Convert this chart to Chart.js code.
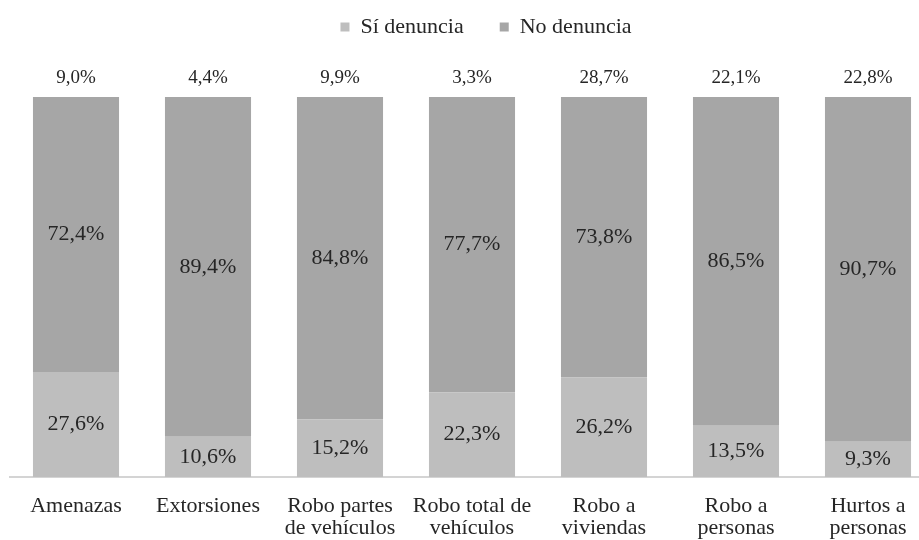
<!DOCTYPE html>
<html lang="es">
<head>
<meta charset="utf-8">
<title>Denuncia por tipo de delito</title>
<script src="https://cdn.jsdelivr.net/npm/chart.js@4"></script>
<style>
  html, body { margin: 0; padding: 0; background: #fff; overflow: hidden; }
  #wrap { width: 919px; height: 540px; overflow: hidden; }
</style>
</head>
<body>
<div id="wrap"><canvas id="grafico" width="940" height="540"></canvas></div>
<script>
// Categorías (tipo de delito) y porcentajes por serie
const categorias = [
  'Amenazas',
  'Extorsiones',
  ['Robo partes', 'de vehículos'],
  ['Robo total de', 'vehículos'],
  ['Robo a', 'viviendas'],
  ['Robo a', 'personas'],
  ['Hurtos a', 'personas']
];
const siDenuncia = [27.6, 10.6, 15.2, 22.3, 26.2, 13.5, 9.3];
const noDenuncia = [72.4, 89.4, 84.8, 77.7, 73.8, 86.5, 90.7];
// porcentaje que aparece encima de cada barra
const totalSobreBarra = [9.0, 4.4, 9.9, 3.3, 28.7, 22.1, 22.8];

const fuente = "'Liberation Serif', 'Times New Roman', serif";
const colorTexto = '#262626';

function formato(v) {
  return v.toFixed(1).replace('.', ',') + '%';
}

// Etiquetas dentro de cada segmento y encima de la barra
const etiquetas = {
  id: 'etiquetas',
  afterDatasetsDraw(chart) {
    const ctx = chart.ctx;
    ctx.save();
    ctx.fillStyle = colorTexto;
    ctx.textAlign = 'center';
    ctx.textBaseline = 'middle';
    ctx.font = '22px ' + fuente;
    chart.data.datasets.forEach((ds, i) => {
      chart.getDatasetMeta(i).data.forEach((bar, j) => {
        ctx.fillText(formato(ds.data[j]), bar.x, (bar.y + bar.base) / 2);
      });
    });
    const ultima = chart.getDatasetMeta(chart.data.datasets.length - 1);
    ctx.font = '19px ' + fuente;
    ultima.data.forEach((bar, j) => {
      ctx.fillText(formato(totalSobreBarra[j]), bar.x, bar.y - 19);
    });
    ctx.restore();
  }
};

// Mueve la leyenda a su sitio (arriba, algo a la derecha)
const moverLeyenda = {
  id: 'moverLeyenda',
  afterLayout(chart) {
    const l = chart.legend;
    l.top -= 49; l.bottom -= 49;
    l.left += 14; l.right += 14;
  }
};

new Chart(document.getElementById('grafico'), {
  type: 'bar',
  data: {
    labels: categorias,
    datasets: [
      {
        label: 'Sí denuncia',
        data: siDenuncia,
        backgroundColor: '#bebebe',
        borderWidth: 0
      },
      {
        label: 'No denuncia',
        data: noDenuncia,
        backgroundColor: '#a6a6a6',
        borderWidth: 0
      }
    ]
  },
  options: {
    responsive: false,
    animation: false,
    devicePixelRatio: 1,
    layout: { padding: { top: 29, left: 10, right: 6, bottom: -17 } },
    datasets: { bar: { categoryPercentage: 1, barPercentage: 0.652 } },
    plugins: {
      legend: {
        position: 'top',
        labels: {
          boxWidth: 9,
          boxHeight: 9,
          padding: 36,
          color: colorTexto,
          font: { family: fuente, size: 22 }
        }
      },
      tooltip: { enabled: false }
    },
    scales: {
      x: {
        stacked: true,
        grid: { display: false, drawTicks: false },
        border: { display: true, color: '#d4d4d4', width: 2 },
        ticks: {
          color: colorTexto,
          font: { family: fuente, size: 22, lineHeight: 1.0 },
          padding: 18,
          maxRotation: 0,
          autoSkip: false
        }
      },
      y: {
        stacked: true,
        display: false,
        min: 0,
        max: 100
      }
    }
  },
  plugins: [etiquetas, moverLeyenda]
});
</script>
</body>
</html>
